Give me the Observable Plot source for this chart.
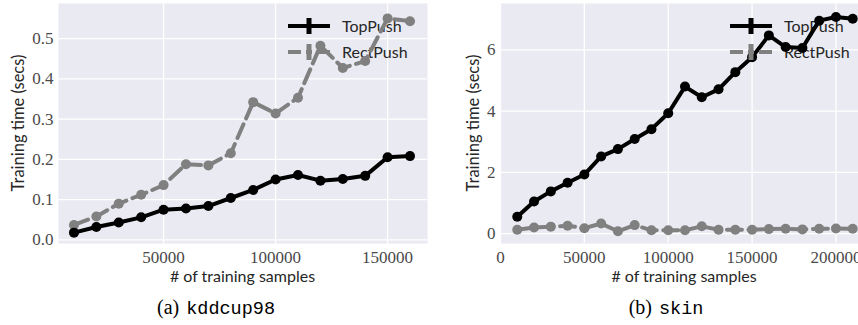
<!DOCTYPE html>
<html>
<head>
<meta charset="utf-8">
<script src="https://cdn.jsdelivr.net/npm/d3@7"></script>
<script src="https://cdn.jsdelivr.net/npm/@observablehq/plot@0.6"></script>
<style>
  html, body { margin: 0; padding: 0; background: #ffffff; overflow: hidden; }
  #fig { position: relative; width: 858px; height: 325px; overflow: hidden; background: #fff; }
  .panel { position: absolute; top: 0; }
  .xlabel, .ylabel { position: absolute; font-family: Lato, "Open Sans", sans-serif; font-size: 16px; color: #262626; white-space: nowrap; }
  .xlabel { transform: translate(-50%, -50%); }
  .ylabel { transform: translate(-50%, -50%) rotate(-90deg); font-size: 16.5px; }
  .cap { position: absolute; transform: translate(-50%, -50%); white-space: nowrap; color: #000; }
  .cap .lab { font-family: "Liberation Serif", serif; font-size: 20px; }
  .cap .name { font-family: "Liberation Mono", monospace; font-size: 18.5px; margin-left: 7px; }
</style>
</head>
<body>
<div id="fig"></div>
<script>
// ---- data ----
const samplesA = [10000, 20000, 30000, 40000, 50000, 60000, 70000, 80000, 90000, 100000, 110000, 120000, 130000, 140000, 150000, 160000];
const topPushA = [0.018, 0.032, 0.043, 0.056, 0.075, 0.078, 0.084, 0.104, 0.124, 0.150, 0.161, 0.147, 0.151, 0.159, 0.205, 0.208];
const rectPushA = [0.037, 0.058, 0.090, 0.112, 0.136, 0.188, 0.185, 0.215, 0.342, 0.314, 0.353, 0.482, 0.427, 0.444, 0.550, 0.543];

const samplesB = [10000, 20000, 30000, 40000, 50000, 60000, 70000, 80000, 90000, 100000, 110000, 120000, 130000, 140000, 150000, 160000, 170000, 180000, 190000, 200000, 210000];
const topPushB = [0.55, 1.05, 1.38, 1.66, 1.93, 2.52, 2.76, 3.09, 3.41, 3.93, 4.80, 4.45, 4.71, 5.27, 5.76, 6.47, 6.09, 6.06, 6.95, 7.07, 7.01];
const rectPushB = [0.13, 0.20, 0.23, 0.26, 0.18, 0.33, 0.08, 0.28, 0.11, 0.11, 0.11, 0.24, 0.13, 0.13, 0.13, 0.15, 0.16, 0.14, 0.16, 0.17, 0.16];

const ticksAX = [50000, 100000, 150000];
const ticksAY = [0.0, 0.1, 0.2, 0.3, 0.4, 0.5];
const ticksBX = [0, 50000, 100000, 150000, 200000];
const ticksBY = [0, 2, 4, 6];

const seriesNames = ["TopPush", "RectPush"];
const seriesColors = ["#000000", "#808080"];
const xLabel = "# of training samples";
const yLabel = "Training time (secs)";
const captions = [["(a)", "kddcup98"], ["(b)", "skin"]];

// ---- helpers ----
function toRows(xs, ys, name) {
  return xs.map((x, i) => ({x, y: ys[i], s: name}));
}

function legendMark(part) {
  return (index, scales, values, dims) => {
    const g = d3.create("svg:g");
    const right = dims.width - dims.marginRight;
    const rowsY = [26, 52];
    seriesNames.forEach((name, i) => {
      const y = rowsY[i];
      if (part === "text") {
        g.append("text")
          .attr("x", right - 85).attr("y", y)
          .attr("dy", "0.35em")
          .attr("text-anchor", "start")
          .attr("fill", "#262626")
          .attr("font-family", "Lato, 'Open Sans', sans-serif")
          .attr("font-size", 16)
          .text(name);
      } else {
        const x0 = right - 139, x1 = right - 97, xm = (x0 + x1) / 2;
        g.append("line")
          .attr("x1", x0).attr("x2", x1).attr("y1", y).attr("y2", y)
          .attr("stroke", seriesColors[i]).attr("stroke-width", 4)
          .attr("stroke-dasharray", i === 1 ? "13,5,6,5,13" : null);
        g.append("line")
          .attr("x1", xm).attr("x2", xm).attr("y1", y - 8).attr("y2", y + 8)
          .attr("stroke", seriesColors[i]).attr("stroke-width", 5);
      }
    });
    return g.node();
  };
}

function panel(opts) {
  const rows = toRows(opts.xs, opts.rect, "RectPush").concat(toRows(opts.xs, opts.top, "TopPush"));
  return Plot.plot({
    width: opts.width,
    height: 265,
    marginLeft: opts.marginLeft,
    marginRight: opts.marginRight,
    marginTop: 3,
    marginBottom: 22,
    style: {fontFamily: "'Liberation Serif', serif", fontSize: "17px", color: "#4a4a4a", background: "transparent", overflow: "visible"},
    x: {domain: opts.xDomain},
    y: {domain: opts.yDomain},
    marks: [
      Plot.frame({fill: "#EAEAF2", stroke: null}),
      Plot.gridX(opts.xTicks, {stroke: "#ffffff", strokeOpacity: 1, strokeWidth: 1.3}),
      Plot.gridY(opts.yTicks, {stroke: "#ffffff", strokeOpacity: 1, strokeWidth: 1.3}),
      Plot.axisX({ticks: opts.xTicks, tickSize: 0, tickPadding: 7, label: null, tickFormat: d => String(d)}),
      Plot.axisY({ticks: opts.yTicks, tickSize: 0, tickPadding: 5, label: null, tickFormat: opts.yFormat}),
      legendMark("text"),
      Plot.line(rows.filter(d => d.s === "RectPush"), {x: "x", y: "y", stroke: seriesColors[1], strokeWidth: 4, strokeDasharray: "15,6.5"}),
      Plot.dot(rows.filter(d => d.s === "RectPush"), {x: "x", y: "y", r: 5, fill: seriesColors[1], stroke: null}),
      Plot.line(rows.filter(d => d.s === "TopPush"), {x: "x", y: "y", stroke: seriesColors[0], strokeWidth: 4}),
      Plot.dot(rows.filter(d => d.s === "TopPush"), {x: "x", y: "y", r: 5, fill: seriesColors[0], stroke: null}),
      legendMark("handles")
    ]
  });
}

const fig = document.getElementById("fig");

const left = panel({
  width: 430, marginLeft: 58, marginRight: 3,
  xs: samplesA, top: topPushA, rect: rectPushA,
  xDomain: [3100, 167800], yDomain: [-0.009, 0.587],
  xTicks: ticksAX, yTicks: ticksAY, yFormat: d => d.toFixed(1)
});
left.classList.add("panel");
left.style.left = "0px";
fig.appendChild(left);

const right = panel({
  width: 442, marginLeft: 70, marginRight: 3,
  xs: samplesB, top: topPushB, rect: rectPushB,
  xDomain: [0, 220000], yDomain: [-0.32, 7.51],
  xTicks: ticksBX, yTicks: ticksBY, yFormat: d => String(d)
});
right.classList.add("panel");
right.style.left = "430px";
fig.appendChild(right);

function addDiv(cls, x, y) {
  const d = document.createElement("div");
  d.className = cls;
  d.style.left = x + "px";
  d.style.top = y + "px";
  fig.appendChild(d);
  return d;
}
function addText(cls, text, x, y) {
  const d = addDiv(cls, x, y);
  d.textContent = text;
}
addText("xlabel", xLabel, 242.5, 275);
addText("xlabel", xLabel, 684, 275);
addText("ylabel", yLabel, 18, 123);
addText("ylabel", yLabel, 473, 123);

[[216, captions[0]], [666, captions[1]]].forEach(([cx, c]) => {
  const d = addDiv("cap", cx, 308);
  const a = document.createElement("span"); a.className = "lab"; a.textContent = c[0];
  const b = document.createElement("span"); b.className = "name"; b.textContent = c[1];
  d.appendChild(a); d.appendChild(b);
});
</script>
</body>
</html>
